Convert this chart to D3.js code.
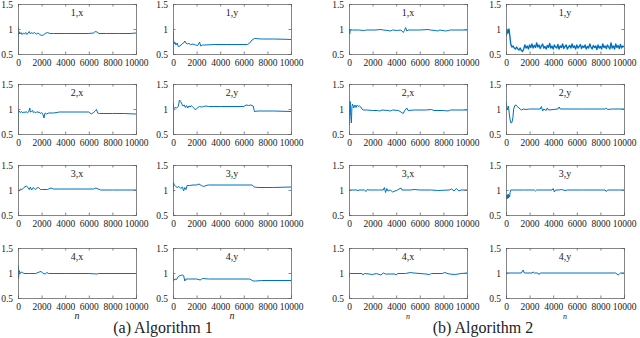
<!DOCTYPE html>
<html>
<head>
<meta charset="utf-8">
<script src="https://cdn.jsdelivr.net/npm/d3@7"></script>
<style>
  body { margin: 0; background: #fff; }
  text { font-family: "Liberation Serif", "Times New Roman", serif; fill: #222; }
</style>
</head>
<body>
<svg id="chart" width="640" height="338"></svg>
<script>
// tick labels
const xTicks = [0, 2000, 4000, 6000, 8000, 10000];
const yTicks = [0.5, 1, 1.5];
const titles = ['1,x', '1,y', '2,x', '2,y', '3,x', '3,y', '4,x', '4,y'];
const captions = ['(a) Algorithm 1', '(b) Algorithm 2'];

// Algorithm 1 series, [n, value]
const a1_1x = [[0,0.5],[10,1.05],[30,0.88],[80,0.95],[150,0.9],[250,0.93],[350,0.89],[450,0.92],[550,0.9],[650,0.93],[750,0.89],[850,0.92],[950,0.95],[1050,0.9],[1150,0.93],[1250,0.91],[1400,0.93],[1550,0.9],[1700,0.92],[1850,0.89],[2000,0.87],[2150,0.88],[2300,0.91],[2500,0.93],[2700,0.91],[3000,0.91],[4000,0.91],[5000,0.91],[6000,0.91],[6400,0.92],[6550,0.95],[6700,0.94],[6850,0.91],[7500,0.91],[8500,0.91],[9500,0.91],[10000,0.92]];
const a1_1y = [[0,0.5],[10,0.95],[40,0.8],[80,0.7],[150,0.74],[250,0.68],[350,0.72],[450,0.65],[600,0.66],[750,0.7],[900,0.72],[1000,0.76],[1100,0.72],[1200,0.7],[1350,0.71],[1500,0.69],[1700,0.7],[1900,0.68],[2100,0.67],[2250,0.74],[2350,0.66],[2500,0.68],[2700,0.68],[3500,0.69],[4500,0.69],[5500,0.69],[6300,0.69],[6500,0.72],[6700,0.78],[6900,0.81],[7500,0.8],[8500,0.8],[9500,0.795],[10000,0.79]];
const a1_2x = [[0,0.5],[10,1.0],[40,0.92],[100,0.96],[200,0.93],[300,0.95],[400,0.92],[500,0.94],[600,0.93],[700,0.95],[800,0.92],[900,0.94],[1000,1.02],[1050,0.94],[1150,0.95],[1250,0.97],[1300,0.93],[1400,0.94],[1500,0.92],[1600,0.95],[1700,0.93],[1800,0.94],[1900,0.91],[2000,0.93],[2100,0.9],[2200,0.82],[2250,0.88],[2300,0.92],[2400,0.9],[2600,0.92],[3000,0.92],[3300,0.93],[3500,0.94],[4500,0.94],[5500,0.94],[6000,0.94],[6200,0.9],[6400,0.93],[6550,0.96],[6650,0.99],[6750,0.92],[6900,0.91],[8000,0.91],[9000,0.91],[10000,0.9]];
const a1_2y = [[0,0.5],[10,1.12],[50,1.0],[150,1.03],[300,1.02],[450,1.05],[550,1.18],[650,1.15],[750,1.1],[850,1.06],[950,1.08],[1050,1.03],[1150,1.07],[1250,1.02],[1350,1.06],[1450,1.04],[1550,1.07],[1700,1.03],[1850,1.0],[1950,0.99],[2100,1.03],[2250,1.05],[2400,1.04],[2600,1.05],[2800,1.06],[3000,1.05],[4000,1.05],[5000,1.05],[6000,1.05],[6200,1.08],[6400,1.07],[6600,1.08],[6800,1.06],[6900,0.95],[7200,0.96],[8500,0.96],[10000,0.95]];
const a1_3x = [[0,1.0],[100,0.98],[200,1.02],[350,1.01],[500,1.05],[700,1.08],[850,1.05],[950,1.01],[1050,1.06],[1150,1.0],[1300,1.05],[1450,1.01],[1600,1.04],[1750,1.05],[1900,1.01],[2100,1.01],[2500,1.01],[2800,1.04],[3000,1.02],[3500,1.02],[4500,1.02],[5500,1.02],[6400,1.02],[6600,1.04],[6800,1.02],[7000,1.0],[8000,1.0],[9000,1.0],[10000,1.0]];
const a1_3y = [[0,0.95],[40,1.15],[100,1.1],[200,1.08],[350,1.05],[500,1.07],[650,1.03],[800,1.06],[900,0.98],[1000,1.05],[1100,1.01],[1200,1.09],[1400,1.09],[1700,1.1],[2000,1.1],[2200,1.12],[2400,1.09],[2600,1.07],[2800,1.09],[3000,1.1],[4000,1.1],[5000,1.1],[6000,1.1],[6700,1.1],[6900,1.06],[7200,1.05],[8500,1.05],[10000,1.06]];
const a1_4x = [[0,0.88],[20,1.15],[50,0.9],[100,1.05],[200,0.99],[300,1.02],[400,1.01],[500,0.99],[1000,0.99],[1500,0.99],[1800,1.02],[1950,1.03],[2100,1.0],[2300,0.98],[2450,1.01],[2600,0.99],[4000,0.99],[6000,0.99],[6700,0.98],[6800,0.99],[10000,0.99]];
const a1_4y = [[0,0.98],[60,0.85],[150,0.88],[300,0.87],[450,0.93],[600,0.95],[800,0.96],[900,0.95],[1000,0.84],[1100,0.88],[1300,0.88],[2000,0.88],[2300,0.86],[2500,0.89],[3000,0.88],[5000,0.88],[6500,0.88],[6800,0.84],[7000,0.84],[7500,0.85],[10000,0.85]];

// Algorithm 2 series, [n, value]
const a2_1x = [[0,0.93],[30,1.0],[60,0.9],[100,0.98],[300,0.98],[800,0.98],[1300,0.97],[1500,0.98],[2200,0.98],[2700,0.99],[2900,0.98],[3300,0.97],[3500,0.96],[3700,0.98],[4100,0.97],[4400,0.98],[4600,0.93],[4700,0.97],[4800,1.03],[4900,0.96],[5000,0.98],[5500,0.98],[6000,0.98],[6700,0.99],[6900,0.98],[7300,0.97],[7500,0.96],[7700,0.98],[8200,0.96],[8400,0.97],[8600,0.98],[9500,0.98],[10000,0.98]];
const a2_1y = [[0,0.85],[50,0.9],[100,0.97],[150,0.92],[250,1.0],[330,0.85],[400,0.7],[500,0.64],[600,0.66],[700,0.62],[800,0.6],[900,0.64],[1000,0.6],[1100,0.58],[1200,0.62],[1300,0.57],[1400,0.55],[1500,0.6],[1600,0.68],[1700,0.62],[1800,0.66],[1900,0.6],[2000,0.68],[2100,0.63],[2200,0.7],[2300,0.62],[2400,0.67],[2500,0.63],[2600,0.72],[2700,0.64],[2800,0.68],[2900,0.61],[3000,0.66],[3100,0.7],[3200,0.62],[3300,0.65],
  [3400,0.6],[3500,0.67],[3600,0.63],[3700,0.71],[3800,0.62],[3900,0.66],[4000,0.6],[4100,0.68],[4200,0.64],[4300,0.62],[4400,0.69],[4500,0.6],[4600,0.66],[4700,0.63],[4800,0.7],[4900,0.61],[5000,0.65],[5100,0.68],[5200,0.6],[5300,0.64],[5400,0.67],[5500,0.62],[5600,0.7],[5700,0.63],[5800,0.66],[5900,0.6],[6000,0.68],[6100,0.62],[6200,0.65],[6300,0.69],[6400,0.61],[6500,0.66],[6600,0.63],[6700,0.68],[6800,0.6],[6900,0.65],[7000,0.62],[7100,0.7],[7200,0.64],[7300,0.6],[7400,0.67],[7500,0.63],[7600,0.66],[7700,0.59],[7800,0.68],[7900,0.62],[8000,0.65],[8100,0.6],[8200,0.7],[8300,0.63],[8400,0.66],[8500,0.61],[8600,0.68],[8700,0.64],[8800,0.6],[8900,0.72],[9000,0.62],[9100,0.66],[9200,0.6],[9300,0.7],[9400,0.63],[9500,0.67],[9600,0.61],[9700,0.69],[9800,0.62],[9900,0.66],[10000,0.64]];
const a2_2x = [[0,0.68],[50,1.0],[100,1.15],[150,0.85],[200,0.72],[250,1.05],[300,1.1],[400,1.02],[500,1.08],[600,1.03],[700,1.08],[800,1.05],[900,1.06],[1000,1.04],[1100,1.0],[1200,0.98],[1500,0.98],[2000,0.97],[2400,0.97],[2600,0.96],[2800,0.98],[3300,0.97],[3500,0.96],[3700,0.98],[4200,0.97],[4600,0.91],[4700,0.96],[4900,1.02],[5000,0.97],[5500,0.98],[6500,0.98],[7000,0.99],[7200,0.97],[8000,0.97],[8400,0.96],[8600,0.98],[10000,0.98]];
const a2_2y = [[0,1.15],[50,1.05],[100,0.98],[200,1.06],[280,0.9],[350,0.78],[420,0.72],[500,0.73],[580,0.82],[650,1.0],[750,1.07],[850,1.08],[950,1.05],[1100,1.02],[1300,0.98],[1500,1.0],[1700,0.99],[2000,1.0],[2900,1.0],[3000,1.05],[3100,0.96],[3200,1.0],[3400,0.97],[3500,1.02],[3600,0.98],[4400,1.0],[4500,1.04],[4600,1.0],[5500,1.0],[6500,1.0],[8400,1.0],[8500,1.02],[8600,0.99],[9000,1.0],[10000,1.0]];
const a2_3x = [[0,1.0],[700,1.0],[750,0.98],[800,1.0],[1300,1.0],[1450,0.97],[1550,1.01],[1700,1.0],[2500,1.0],[2900,1.0],[3000,1.05],[3100,0.95],[3200,1.03],[3300,0.98],[3500,1.0],[3700,0.96],[3900,0.98],[4100,1.0],[4400,1.04],[4500,1.0],[5200,1.0],[5500,1.01],[6000,1.0],[7000,1.0],[7500,0.99],[8500,1.0],[8700,1.02],[8900,0.98],[9100,1.03],[9300,0.98],[9500,1.0],[10000,1.0]];
const a2_3y = [[0,0.85],[30,0.9],[60,0.82],[100,0.9],[140,0.83],[180,0.92],[220,0.84],[260,0.9],[300,0.86],[350,0.95],[400,1.0],[600,1.0],[1500,1.0],[2400,1.0],[2500,0.98],[2600,1.0],[3900,1.0],[4000,1.03],[4100,0.96],[4200,1.0],[4500,1.0],[4700,1.01],[5000,0.99],[5200,1.0],[6500,1.0],[8400,1.0],[8500,0.97],[8600,1.0],[10000,1.0]];
const a2_4x = [[0,0.92],[50,0.99],[500,0.99],[1100,0.99],[1200,0.96],[1300,0.99],[1700,0.98],[2000,0.97],[2300,0.99],[2700,0.96],[2900,1.0],[3100,0.98],[3900,0.98],[4000,0.96],[4100,0.99],[4800,0.99],[5200,1.01],[5500,1.0],[6500,0.98],[6800,0.97],[7000,0.99],[7900,0.99],[8100,1.01],[8500,0.98],[9000,0.97],[9500,0.99],[10000,1.0]];
const a2_4y = [[0,1.0],[1300,1.0],[1450,1.06],[1550,1.0],[2200,1.0],[2300,1.02],[2400,1.0],[2700,1.0],[2800,0.97],[2900,1.0],[9300,1.0],[9500,0.96],[9600,0.98],[9700,1.0],[10000,1.0]];

const alg1 = [a1_1x, a1_1y, a1_2x, a1_2y, a1_3x, a1_3y, a1_4x, a1_4y];
const alg2 = [a2_1x, a2_1y, a2_2x, a2_2y, a2_3x, a2_3y, a2_4x, a2_4y];

const svg = d3.select('#chart');
const colX = [18, 173, 349, 506];
const rowY = [4, 84, 165, 248];
const W = 118, H = 50;
const blue = '#0072BD';

function panel(series, title, px, py, lw) {
  const g = svg.append('g').attr('transform', `translate(${px},${py})`);
  const x = d3.scaleLinear().domain([0, 10000]).range([0, W]);
  const y = d3.scaleLinear().domain([0.5, 1.5]).range([H, 0]);

  g.append('clipPath').attr('id', 'c' + px + '_' + py)
    .append('rect').attr('width', W).attr('height', H);

  const line = d3.line().x(d => x(d[0])).y(d => y(d[1]));
  g.append('path')
    .datum(series)
    .attr('clip-path', `url(#c${px}_${py})`)
    .attr('fill', 'none')
    .attr('stroke', blue)
    .attr('stroke-width', lw)
    .attr('stroke-linejoin', 'round')
    .attr('d', line);

  // axes, MATLAB style: ticks inward, box on
  const bottom = g.append('g').attr('transform', `translate(0,${H})`)
    .call(d3.axisBottom(x).tickValues(xTicks).tickSize(-2.5).tickPadding(5).tickFormat(d3.format('d')));
  const left = g.append('g')
    .call(d3.axisLeft(y).tickValues(yTicks).tickSize(-2.5).tickPadding(5).tickFormat(d => d));
  const top = g.append('g')
    .call(d3.axisTop(x).tickValues(xTicks).tickSize(-2.5).tickFormat(''));
  const right = g.append('g').attr('transform', `translate(${W},0)`)
    .call(d3.axisRight(y).tickValues(yTicks).tickSize(-2.5).tickFormat(''));

  [bottom, left, top, right].forEach(a => {
    a.selectAll('path, line').attr('stroke', '#666').attr('stroke-width', 0.8);
    a.selectAll('text').attr('font-size', 9.5).attr('font-family', '"Liberation Serif", serif').attr('fill', '#222');
  });

  g.append('text')
    .attr('x', W / 2).attr('y', 12)
    .attr('text-anchor', 'middle')
    .attr('font-size', 10)
    .text(title);
}

alg1.forEach((s, i) => panel(s, titles[i], colX[i % 2], rowY[Math.floor(i / 2)], 1));
alg2.forEach((s, i) => panel(s, titles[i], colX[2 + i % 2], rowY[Math.floor(i / 2)], i === 1 ? 1.4 : 1));

// x labels under the bottom row
[0, 1, 2, 3].forEach(c => {
  svg.append('text')
    .attr('x', colX[c] + W / 2).attr('y', rowY[3] + H + 21)
    .attr('text-anchor', 'middle')
    .attr('font-size', c < 2 ? 10 : 8)
    .attr('font-style', 'italic')
    .text('n');
});

captions.forEach((t, i) => {
  svg.append('text')
    .attr('x', i === 0 ? 163 : 483).attr('y', 333)
    .attr('text-anchor', 'middle')
    .attr('font-size', 16)
    .text(t);
});
</script>
</body>
</html>
